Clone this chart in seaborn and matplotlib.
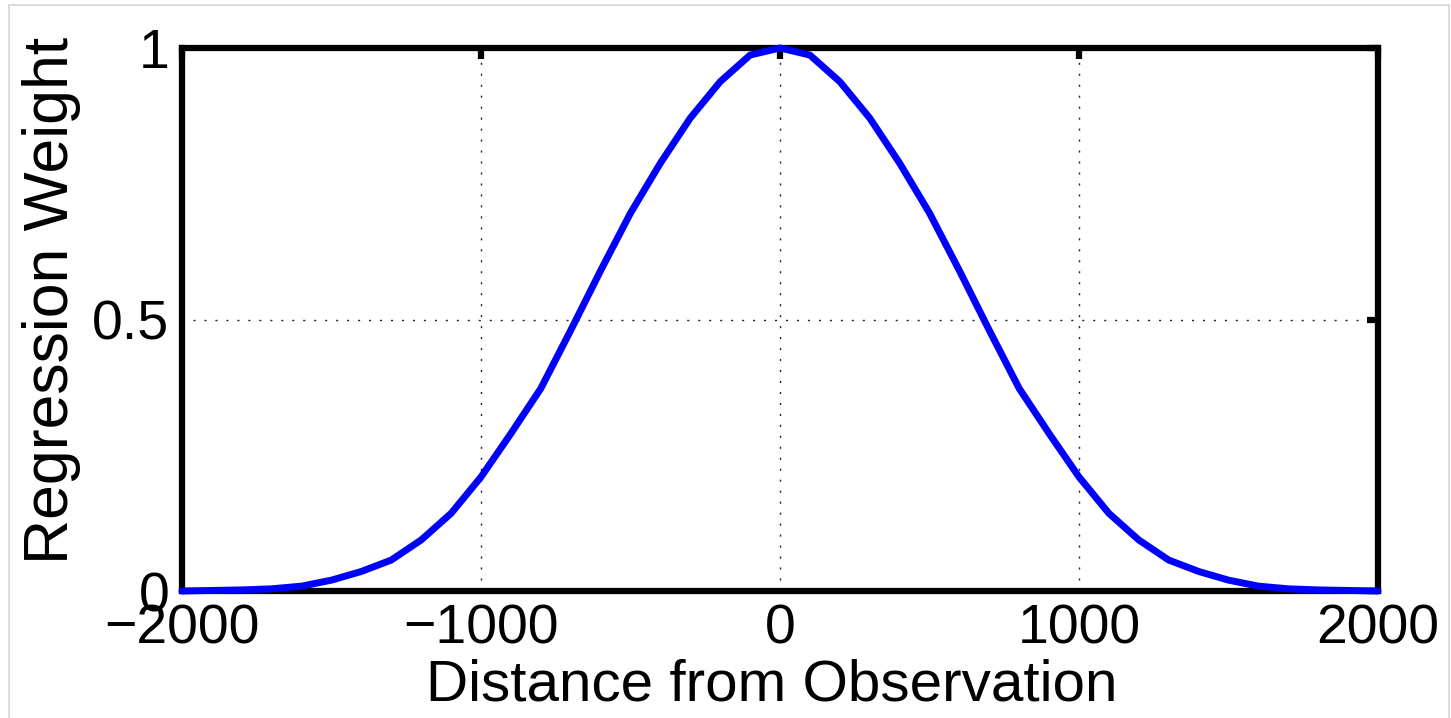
import seaborn as sns
import pandas as pd
import matplotlib.pyplot as plt
from matplotlib.patches import Rectangle

# Distance from the observation point and the regression weight
distance = [-2000, -1900, -1800, -1700, -1600, -1500, -1400, -1300, -1200, -1100,
            -1000, -900, -800, -700, -600, -500, -400, -300, -200, -100,
            0, 100, 200, 300, 400, 500, 600, 700, 800, 900,
            1000, 1100, 1200, 1300, 1400, 1500, 1600, 1700, 1800, 1900, 2000]
weight = [0.000, 0.001, 0.002, 0.004, 0.009, 0.020, 0.036, 0.057, 0.094, 0.143,
          0.210, 0.290, 0.373, 0.480, 0.590, 0.696, 0.788, 0.871, 0.938, 0.987,
          1.000, 0.987, 0.938, 0.871, 0.788, 0.696, 0.590, 0.480, 0.373, 0.290,
          0.210, 0.143, 0.094, 0.057, 0.036, 0.020, 0.009, 0.004, 0.002, 0.001, 0.000]

x_ticks = [-2000, -1000, 0, 1000, 2000]
y_ticks = [0, 0.5, 1]
y_tick_labels = ["0", "0.5", "1"]

df = pd.DataFrame({"distance": distance, "weight": weight})

sns.set_style("white")
plt.rcParams["font.family"] = ["Liberation Sans", "DejaVu Sans"]

fig = plt.figure(figsize=(14.51, 7.18), dpi=100)
ax = fig.add_axes([182 / 1451, 1 - 591 / 718, (1378 - 182) / 1451, (591 - 48) / 718])

sns.lineplot(data=df, x="distance", y="weight", color="#0000ff", linewidth=5,
             ax=ax, zorder=3, clip_on=False)

ax.set_xlim(-2000, 2000)
ax.set_ylim(0, 1)
ax.set_xticks(x_ticks)
ax.set_yticks(y_ticks)
ax.set_yticklabels(y_tick_labels)

# matlab style box, dotted grid, inward ticks on every side
for s in ax.spines.values():
    s.set_visible(True)
    s.set_linewidth(4.5)
    s.set_color("black")
ax.grid(True, linestyle=(0, (1.5, 6.4)), color="#222222", linewidth=1.0)
ax.tick_params(direction="in", length=8, width=4.5, top=True, right=True,
               labelsize=40, pad=9, colors="black")

ax.set_xlabel("Distance from Observation", fontsize=42, labelpad=2, color="black")
ax.set_ylabel("Regression Weight", fontsize=45, labelpad=8, color="black")
ax.xaxis.label.set_x(0.493)
ax.yaxis.label.set_y(0.535)

# faint frame around the picture
fig.patches.append(Rectangle((9 / 1451, -0.01), (1449 - 9) / 1451, 1.01 - 5 / 718,
                             transform=fig.transFigure, fill=False,
                             edgecolor="#d4d4d4", linewidth=1.2))

fig.savefig("out.png", dpi=100)
